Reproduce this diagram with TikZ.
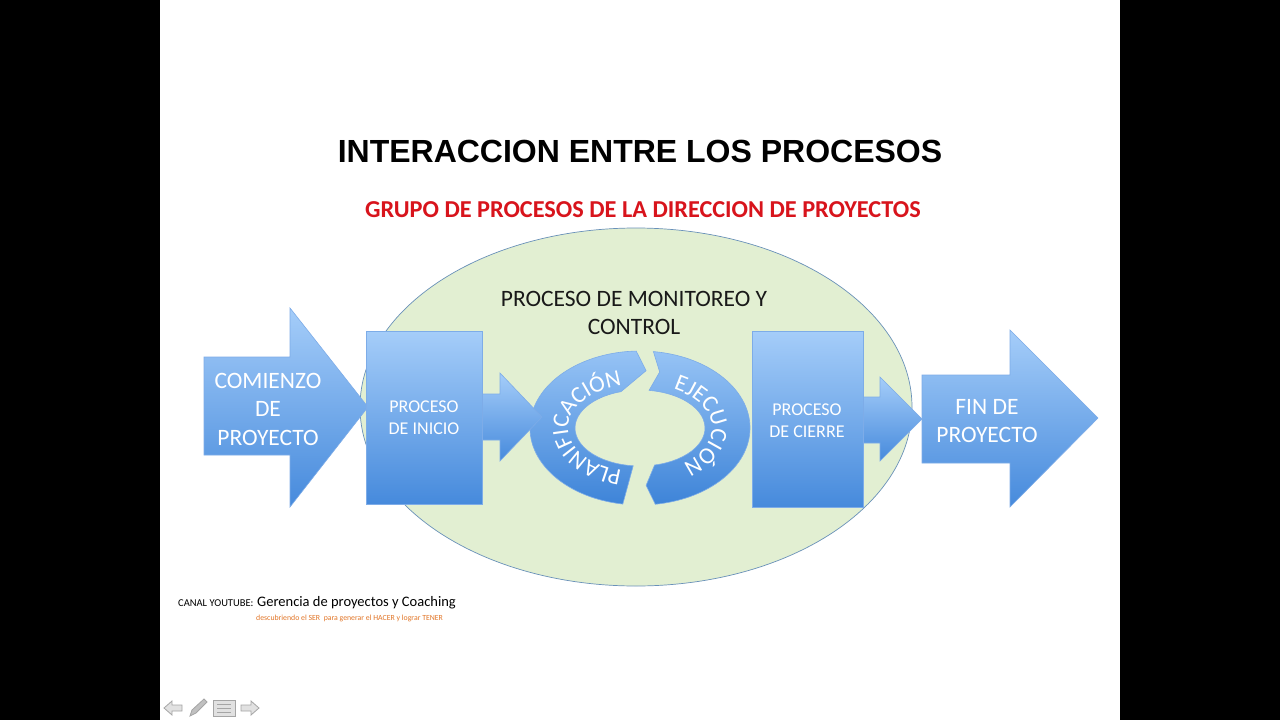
\documentclass[tikz,border=0pt]{standalone}
\usepackage{fontspec}
\setmainfont{Carlito}
\newfontfamily\arialfont{Liberation Sans}
\usetikzlibrary{calc,decorations.text}
\definecolor{ellfill}{RGB}{226,239,210}
\definecolor{elldraw}{RGB}{105,145,185}
\definecolor{blueTop}{RGB}{165,205,249}
\definecolor{blueBot}{RGB}{70,138,220}
\definecolor{blueEdge}{RGB}{125,172,232}
\definecolor{arcTop}{RGB}{150,195,245}
\definecolor{arcBot}{RGB}{62,132,216}
\definecolor{titlered}{RGB}{216,20,28}
\definecolor{footorange}{RGB}{226,118,40}
\definecolor{navgray}{RGB}{165,165,165}
\definecolor{navlight}{RGB}{225,225,225}
\newcommand{\arcfont}{\fontsize{23.5}{28}\selectfont}
\begin{document}
\begin{tikzpicture}[x=1pt,y=-1pt,
  blueshape/.style={top color=blueTop, bottom color=blueBot, draw=blueEdge, line width=0.6pt},
  arcshape/.style={top color=arcTop, bottom color=arcBot, draw=blueEdge, line width=0.6pt},
  bigtxt/.style={text=white, align=center, inner sep=0pt, font=\fontsize{23.5}{28.5}\selectfont},
  smalltxt/.style={text=white, align=center, inner sep=0pt, font=\fontsize{18}{22}\selectfont},
  navicon/.style={fill=navlight, draw=navgray, line width=0.8pt}]
\useasboundingbox (0,0) rectangle (1280,720);
\fill[black] (0,0) rectangle (1280,720);
\fill[white] (160,0) rectangle (1120,720);

% titles
\node[inner sep=0pt, font=\arialfont\bfseries\fontsize{32}{38}\selectfont] (title) at (640,151) {INTERACCION ENTRE LOS PROCESOS};
\node[inner sep=0pt, text=titlered, font=\bfseries\fontsize{24.3}{28}\selectfont] (subtitle) at (643,210) {GRUPO DE PROCESOS DE LA DIRECCION DE PROYECTOS};

% big ellipse
\draw[fill=ellfill, draw=elldraw, line width=0.7pt] (636,407) ellipse [x radius=276, y radius=179];
\node[inner sep=0pt, align=center, text=black!90, font=\fontsize{23.5}{28}\selectfont] (monitor) at (634,313) {PROCESO DE MONITOREO Y\\CONTROL};

% comienzo arrow
\draw[blueshape] (204,357) -- (290,357) -- (290,308) -- (368,407) -- (290,507) -- (290,455) -- (204,455) -- cycle;
\node[bigtxt] (comienzo) at (268,409) {COMIENZO\\DE\\PROYECTO};

% cycle arrows
\coordinate (cc) at (640,428);
\draw[arcshape] ($(cc)+(99:110 and 77)$) arc[start angle=99, end angle=268, x radius=110, y radius=77]
  -- ($(cc)+(274:87.5 and 57.5)$) -- ($(cc)+(253:65 and 38)$)
  arc[start angle=253, end angle=96, x radius=65, y radius=38] -- cycle;
\draw[arcshape] ($(cc)+(277:110 and 77)$) arc[start angle=277, end angle=442, x radius=110, y radius=77]
  -- ($(cc)+(86:87.5 and 57.5)$) -- ($(cc)+(437:65 and 38)$)
  arc[start angle=437, end angle=278, x radius=65, y radius=38]
  -- ($(cc)+(283:87.5 and 57.5)$) -- cycle;
\path[decorate, decoration={text along path, text align=center, text={|\color{white}\arcfont|PLANIFICACIÓN}}]
  ($(cc)+(90:72 and 44)$) arc[start angle=90, end angle=270, x radius=72, y radius=44];
\path[decorate, decoration={text along path, text align=center, text={|\color{white}\arcfont|EJECUCIÓN}}]
  ($(cc)+(266:72 and 44)$) arc[start angle=266, end angle=446, x radius=72, y radius=44];

% inicio
\draw[blueshape] (478,394) -- (500,394) -- (500,373) -- (542,417) -- (500,461) -- (500,440) -- (478,440) -- cycle;
\draw[blueshape] (366,331) rectangle (482,504);
\node[smalltxt] (inicio) at (424,418) {PROCESO\\DE INICIO};

% cierre
\draw[blueshape] (858,397) -- (880,397) -- (880,377) -- (922,419) -- (880,461) -- (880,443) -- (858,443) -- cycle;
\draw[blueshape] (752,331) rectangle (863,507);
\node[smalltxt] (cierre) at (807,421) {PROCESO\\DE CIERRE};

% fin arrow
\draw[blueshape] (922,375) -- (1010,375) -- (1010,330) -- (1098,418) -- (1010,507) -- (1010,463) -- (922,463) -- cycle;
\node[bigtxt] (fin) at (987,421) {FIN DE\\PROYECTO};

% footer
\node[anchor=base west, inner sep=0pt, font=\fontsize{10.5}{12}\selectfont] (canal) at (178,606) {CANAL YOUTUBE:};
\node[anchor=base west, inner sep=0pt, font=\fontsize{14.5}{17}\selectfont] (gerencia) at (257,606) {Gerencia de proyectos y Coaching};
\node[anchor=base west, inner sep=0pt, text=footorange, font=\fontsize{7.8}{9}\selectfont] (lema) at (256,620) {descubriendo el SER\ \ para generar el HACER y lograr TENER};

% navigation icons
\draw[navicon] (164,708) -- (172,701) -- (172,705) -- (182,705) -- (182,711) -- (172,711) -- (172,715) -- cycle;
\draw[navicon, fill=navgray!70] (190,716) -- (192,710) -- (204,699) -- (207,702) -- (196,713) -- cycle;
\draw[navicon] (213,700) rectangle (235,716);
\draw[navgray, line width=0.8pt] (217,704) -- (231,704) (217,708) -- (231,708) (217,712) -- (231,712);
\draw[navicon] (259,708) -- (251,701) -- (251,705) -- (241,705) -- (241,711) -- (251,711) -- (251,715) -- cycle;
\end{tikzpicture}
\end{document}
